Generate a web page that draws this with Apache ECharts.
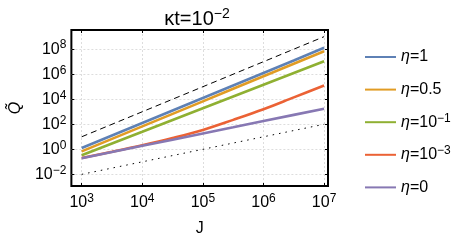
<!DOCTYPE html>
<html><head><meta charset="utf-8">
<script src="https://cdn.jsdelivr.net/npm/echarts@6/dist/echarts.min.js"></script>
<style>html,body{margin:0;padding:0;background:#fff}#c{width:463px;height:242px}</style>
</head><body><div id="c"></div>
<script>
// ---- data ----
const J = [1000, 3162, 10000, 31623, 100000, 316228, 1000000, 3162278, 10000000];
const seriesNames = ['η=1', 'η=0.5', 'η=10⁻¹', 'η=10⁻³', 'η=0'];
const legendLabels = ['{i|η}=1', '{i|η}=0.5', '{i|η}=10{s|−1}', '{i|η}=10{s|−3}', '{i|η}=0'];
const qEta1    = [1.26, 12.6, 126, 1260, 12600, 1.26e5, 1.26e6, 1.26e7, 1.3e8];
const qEta05   = [0.68, 6.8, 68, 680, 6800, 6.8e4, 6.8e5, 6.8e6, 6.8e7];
const qEta1em1 = [0.33, 2.9, 25, 219, 1905, 1.66e4, 1.45e5, 1.26e6, 1.1e7];
const qEta1em3 = [0.2, 0.63, 2.1, 7.9, 35, 224, 1580, 1.41e4, 1.26e5];
const qEta0    = [0.195, 0.6, 1.9, 5.9, 18.6, 57.5, 182, 562, 1740];
const refJ = [1000, 10000000];
const dashedRef = [10, 1e9];
const dottedRef = [0.01, 100];
const xTicks = [1e3, 1e4, 1e5, 1e6, 1e7];
const yTicks = [1e-2, 1, 1e2, 1e4, 1e6, 1e8];
const titleText = '{b|κt=10}{s|−2}';
const xName = 'J';
const yName = 'Q̃';
// ---------------------------------------

const colors = ['#5E81B5', '#E19C24', '#8FB032', '#EB6235', '#8778B3'];
const FONT = 'Liberation Sans, Arial, sans-serif';
const pairs = (xs, ys) => xs.map((x, i) => [x, ys[i]]);
const supFmt = v => {
  const e = Math.round(Math.log10(v));
  return '{b|10}{s|' + (e < 0 ? '−' + (-e) : e) + '}';
};
const labelRich = {
  b: {fontSize: 16, fontFamily: FONT, color: '#000'},
  s: {fontSize: 12, fontFamily: FONT, color: '#000', padding: [0, 0, 8, 0]}
};
const xMin = 676, xMax = 1.16e7, yMin = 1.17e-3, yMax = 3.4e9;
const gridLine = {show: true, lineStyle: {color: '#ddd', type: [2, 2], width: 1}};
const tickIn = (vals) => ({show: true, inside: true, length: 3, lineStyle: {color: '#000', width: 1}, customValues: vals});

const chart = echarts.init(document.getElementById('c'), null, {renderer: 'canvas'});
const dataSets = [qEta1, qEta05, qEta1em1, qEta1em3, qEta0];
const series = dataSets.map((d, i) => ({
  name: seriesNames[i], type: 'line', data: pairs(J, d), showSymbol: false, symbol: 'none',
  smooth: i === 3 ? 0.35 : false,
  lineStyle: {color: colors[i], width: 2.6}, itemStyle: {color: colors[i]}, z: 3 + i, silent: true
}));
series.unshift({type: 'line', data: pairs(refJ, dashedRef), symbol: 'none', lineStyle: {color: '#000', width: 1, type: [6, 4]}, silent: true, z: 2});
series.unshift({type: 'line', data: pairs(refJ, dottedRef), symbol: 'none', lineStyle: {color: '#000', width: 1, type: [1.5, 5]}, silent: true, z: 2});

chart.setOption({
  animation: false,
  title: {text: titleText, left: 192, top: 2, textAlign: 'center',
    textStyle: {fontWeight: 'normal', rich: {b: {fontSize: 20, fontFamily: FONT, color: '#000'}, s: {fontSize: 14, fontFamily: FONT, color: '#000', padding: [0, 0, 10, 0]}}}},
  grid: {left: 68, right: 135, top: 30, bottom: 51, show: true, borderColor: '#000', borderWidth: 2, backgroundColor: 'transparent'},
  legend: {
    orient: 'vertical', left: 359, top: 42, itemWidth: 31, itemHeight: 20, itemGap: 12.6,
    data: seriesNames,
    formatter: name => legendLabels[seriesNames.indexOf(name)],
    textStyle: {fontSize: 16, fontFamily: FONT, color: '#000', lineHeight: 20,
      rich: {i: {fontSize: 16, fontStyle: 'italic', fontFamily: FONT, color: '#000'},
             s: {fontSize: 12, fontFamily: FONT, color: '#000', padding: [0, 0, 8, 0]}}},
    itemStyle: {opacity: 0}, lineStyle: {width: 2}
  },
  xAxis: [{
    type: 'log', min: xMin, max: xMax, position: 'bottom',
    name: xName, nameLocation: 'middle', nameGap: 35, nameTextStyle: {fontSize: 16, fontFamily: FONT, color: '#000'},
    axisLine: {show: false}, axisTick: tickIn(xTicks), splitLine: gridLine, minorTick: {show: false},
    axisLabel: {customValues: xTicks, formatter: supFmt, rich: labelRich, margin: 7, color: '#000'}
  }, {
    type: 'log', min: xMin, max: xMax, position: 'top',
    axisLine: {show: false}, axisTick: tickIn(xTicks), splitLine: {show: false}, axisLabel: {show: false}
  }],
  yAxis: [{
    type: 'log', min: yMin, max: yMax, position: 'left',
    name: yName, nameLocation: 'middle', nameGap: 43, nameRotate: 90,
    nameTextStyle: {fontSize: 16, fontStyle: 'italic', fontFamily: FONT, color: '#000'},
    axisLine: {show: false}, axisTick: tickIn(yTicks), splitLine: gridLine,
    axisLabel: {customValues: yTicks, formatter: supFmt, rich: labelRich, margin: 5, color: '#000'}
  }, {
    type: 'log', min: yMin, max: yMax, position: 'right',
    axisLine: {show: false}, axisTick: tickIn(yTicks), splitLine: {show: false}, axisLabel: {show: false}
  }],
  series: series
});
</script></body></html>
